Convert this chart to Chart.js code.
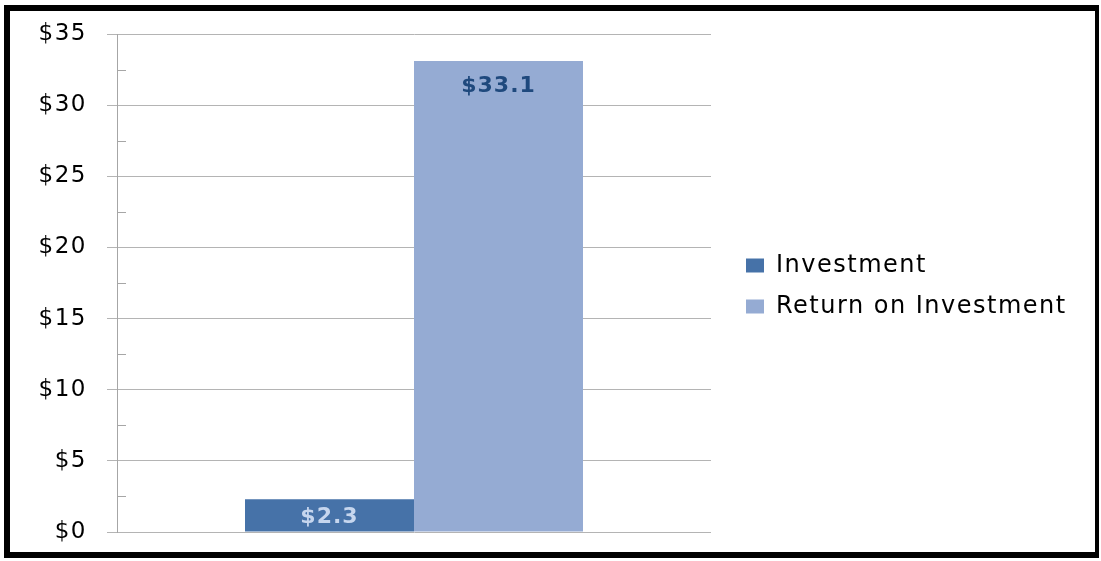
<!DOCTYPE html>
<html>
<head>
<meta charset="utf-8">
<script src="https://cdn.jsdelivr.net/npm/chart.js@4.4.0/dist/chart.umd.min.js"></script>
<style>
  html, body { margin: 0; padding: 0; background: #fff; }
  #wrap { position: relative; width: 1101px; height: 561px; }
  #chart { display: block; }
  #frame {
    position: absolute; left: 4px; top: 5px; width: 1095px; height: 553px;
    box-sizing: border-box; border: 6px solid #000; border-right-width: 4px;
    pointer-events: none;
  }
</style>
</head>
<body>
<div id="wrap">
  <canvas id="chart" width="1101" height="561"></canvas>
  <div id="frame"></div>
</div>
<script>
// data
const categories = [""];
const seriesNames = ["Investment", "Return on Investment"];
const investment = [2.3];
const returnOnInvestment = [33.1];
const yTicks = [0, 5, 10, 15, 20, 25, 30, 35];

const fontFamily = "'DejaVu Sans', sans-serif";
const barColors = ["#4672a8", "#95abd3"];
const valueColors = ["#c6d6ee", "#1f497d"];
const gridColor = "#b4b4b4";
const axisColor = "#a6a6a6";

// spacing to widen the text a bit, the source font is a stretched Calibri
const textSpacing = {
  id: "textSpacing",
  beforeUpdate(chart) { chart.ctx.letterSpacing = "1.5px"; },
  beforeDraw(chart) { chart.ctx.letterSpacing = "1.5px"; },
};

// the legend takes the whole right side, with its items a bit away from the plot
const legendPlace = {
  id: "legendPlace",
  beforeLayout(chart) {
    let lg = chart.legend;
    if (lg && !lg._wrapped) {
      let fit = lg.fit;
      lg.fit = function () {
        fit.call(this);
        this.width = 390;
      };
      lg._wrapped = true;
    }
  },
  afterLayout(chart) {
    chart.legend.left += 18;
    chart.legend.right += 18;
    chart.legend.top += 3;
    chart.legend.bottom += 3;
  },
};

// small minor ticks pointing into the plot, between the $5 steps
const minorTicks = {
  id: "minorTicks",
  afterDraw(chart) {
    let y = chart.scales.y;
    let ctx = chart.ctx;
    ctx.save();
    ctx.strokeStyle = axisColor;
    ctx.lineWidth = 1;
    y.ticks.forEach((t) => {
      if (yTicks.includes(t.value)) return;
      let py = Math.round(y.getPixelForValue(t.value)) + 0.5;
      ctx.beginPath();
      ctx.moveTo(y.right, py);
      ctx.lineTo(y.right + 9, py);
      ctx.stroke();
    });
    ctx.restore();
  },
};

// value labels inside the bars
const valueLabels = {
  id: "valueLabels",
  afterDatasetsDraw(chart) {
    let ctx = chart.ctx;
    ctx.save();
    ctx.letterSpacing = "1px";
    ctx.font = "bold 22px " + fontFamily;
    ctx.textAlign = "center";
    ctx.textBaseline = "middle";
    chart.data.datasets.forEach((ds, i) => {
      chart.getDatasetMeta(i).data.forEach((bar, j) => {
        let py = Math.min(bar.y + 25, bar.base - 14);
        ctx.fillStyle = valueColors[i];
        ctx.fillText("$" + ds.data[j], bar.x, py);
      });
    });
    ctx.restore();
  },
};

new Chart(document.getElementById("chart"), {
  type: "bar",
  data: {
    labels: categories,
    datasets: [
      { label: seriesNames[0], data: investment, backgroundColor: barColors[0], borderWidth: 0 },
      { label: seriesNames[1], data: returnOnInvestment, backgroundColor: barColors[1], borderWidth: 0 },
    ],
  },
  options: {
    responsive: false,
    animation: false,
    layout: { padding: { left: 0, right: 0, top: 34, bottom: 29 } },
    datasets: { bar: { categoryPercentage: 0.569, barPercentage: 1 } },
    plugins: {
      tooltip: { enabled: false },
      legend: {
        position: "right",
        align: "center",
        labels: {
          boxWidth: 18,
          boxHeight: 14,
          padding: 17,
          color: "#000",
          font: { family: fontFamily, size: 24 },
        },
      },
    },
    scales: {
      x: { display: false },
      y: {
        min: yTicks[0],
        max: yTicks[yTicks.length - 1],
        afterFit(scale) {
          // fixed axis width, and no extra room above/below for the labels
          scale.width = 117;
          scale.paddingTop = 0;
          scale.paddingBottom = 0;
        },
        ticks: {
          stepSize: 2.5,
          autoSkip: false,
          padding: 20,
          color: "#000",
          font: { family: fontFamily, size: 23 },
          callback: (v) => (yTicks.includes(v) ? "$" + v : ""),
        },
        grid: {
          color: (c) => (c.tick && yTicks.includes(c.tick.value) ? gridColor : "transparent"),
          tickColor: (c) => (c.tick && yTicks.includes(c.tick.value) ? gridColor : "transparent"),
          tickLength: 10,
          lineWidth: 1,
        },
        border: { color: axisColor },
      },
    },
  },
  plugins: [textSpacing, legendPlace, minorTicks, valueLabels],
});
</script>
</body>
</html>
